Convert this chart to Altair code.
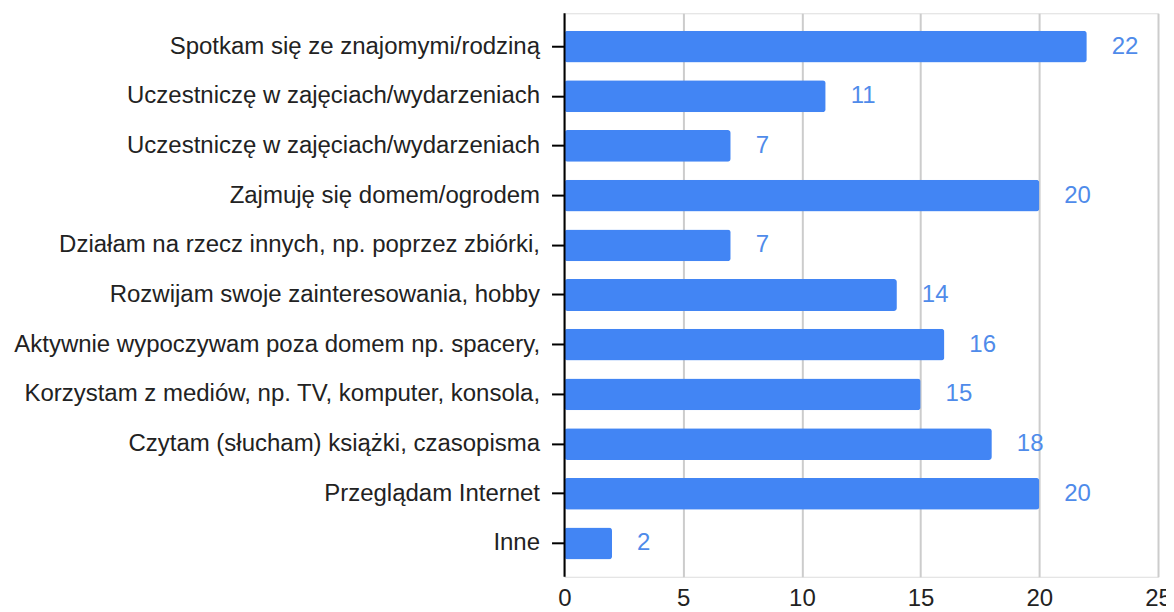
import json
import altair as alt
import pandas as pd

categories = [
    "Spotkam się ze znajomymi/rodziną",
    "Uczestniczę w zajęciach/wydarzeniach",
    "Uczestniczę w zajęciach/wydarzeniach",
    "Zajmuję się domem/ogrodem",
    "Działam na rzecz innych, np. poprzez zbiórki,",
    "Rozwijam swoje zainteresowania, hobby",
    "Aktywnie wypoczywam poza domem np. spacery,",
    "Korzystam z mediów, np. TV, komputer, konsola,",
    "Czytam (słucham) książki, czasopisma",
    "Przeglądam Internet",
    "Inne",
]
values = [22, 11, 7, 20, 7, 14, 16, 15, 18, 20, 2]
x_ticks = [0, 5, 10, 15, 20, 25]

df = pd.DataFrame({"idx": list(range(len(categories))), "label": categories, "value": values})

FONT = "Liberation Sans"
FS = 24
label_expr = json.dumps(categories, ensure_ascii=False) + "[datum.value]"

y_enc = alt.Y(
    "idx:O",
    sort="ascending",
    title=None,
    scale=alt.Scale(paddingInner=0.36, paddingOuter=0.35),
    axis=alt.Axis(
        labelExpr=label_expr,
        domain=False,
        ticks=True,
        tickSize=25,
        tickColor="#000000",
        tickWidth=2,
        offset=-12,
        labelPadding=12,
        labelFont=FONT,
        labelFontSize=FS,
        labelColor="#222222",
        labelLimit=800,
        grid=False,
    ),
)

x_enc = alt.X(
    "value:Q",
    title=None,
    scale=alt.Scale(domain=[0, 25], nice=False),
    axis=alt.Axis(
        values=x_ticks,
        domain=False,
        ticks=False,
        labelPadding=10,
        labelFont=FONT,
        labelFontSize=FS,
        labelColor="#222222",
        grid=True,
        gridColor="#cccccc",
        gridWidth=2,
        labelFlush=False,
    ),
)

bars = alt.Chart(df).mark_bar(color="#4285f4", cornerRadius=3).encode(x=x_enc, y=y_enc)

text = alt.Chart(df).mark_text(
    align="left", baseline="middle", dx=25, font=FONT, fontSize=FS, color="#4f8bea"
).encode(x="value:Q", y=alt.Y("idx:O", sort="ascending"), text="value:Q")

zero = alt.Chart(pd.DataFrame({"z": [0]})).mark_rule(color="#000000", strokeWidth=2).encode(
    x=alt.X("z:Q")
)

chart = (
    alt.layer(bars, zero, text)
    .properties(
        width=594,
        height=564,
        autosize=alt.AutoSizeParams(type="none"),
        padding={"left": 557, "top": 5, "right": 8, "bottom": 50},
    )
    .configure_view(stroke=None)
    .configure(background="white")
)

chart.save("out.html", embed_options={"renderer": "svg", "actions": False})
